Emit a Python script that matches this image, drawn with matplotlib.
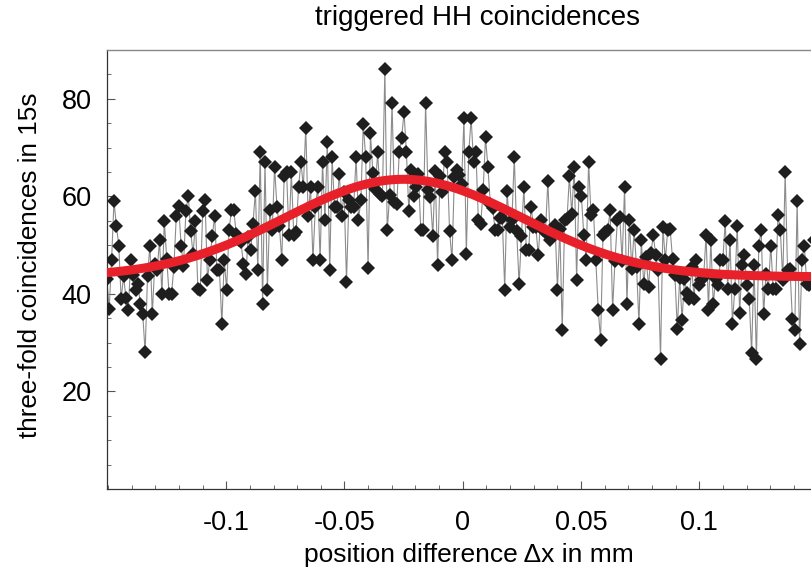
import numpy as np
import matplotlib
matplotlib.use("Agg")
import matplotlib.pyplot as plt
from matplotlib.ticker import MultipleLocator

plt.rcParams['font.family'] = ['Liberation Sans', 'DejaVu Sans']

# three-fold coincidences per scan step (left to right)
counts = [
    43.0, 37.0, 46.9, 59.0, 54.0, 49.9, 38.9, 43.7, 39.1, 36.8, 47.0, 43.8, 40.7, 42.1, 37.9,
    35.8, 28.0, 43.7, 49.9, 35.8, 46.2, 44.8, 51.0, 39.9, 54.9, 47.2, 39.9, 39.9, 45.6, 56.0,
    58.1, 49.9, 45.8, 56.9, 60.1, 52.9, 48.1, 54.9, 41.1,
    40.9, 57.0, 59.2, 42.9, 47.0, 51.9, 55.9, 44.8, 44.8, 33.8, 47.0, 40.9, 53.0, 57.1, 57.1,
    52.3, 51.0, 50.6, 46.1, 44.0, 51.6, 48.9, 54.4, 61.1, 44.8, 69.0, 38.0, 67.0, 40.9, 57.1,
    53.0, 66.0, 57.8, 54.0, 46.9, 64.1, 65.0, 52.0,
    65.0, 52.0, 52.7, 61.9, 67.0, 61.9, 74.1, 56.0, 61.9, 46.9, 57.8, 61.9, 46.9, 67.0, 55.2,
    71.2, 44.9, 68.0, 57.8, 57.8, 64.6, 56.0, 60.9, 42.5, 59.3, 57.8, 57.8, 68.0, 55.2, 59.2,
    74.8, 68.0, 45.3, 72.9, 64.8, 61.5, 69.0, 60.5, 60.1, 86.1,
    53.0, 60.2, 79.2, 58.8, 58.5, 69.0, 72.0, 77.2, 69.0, 57.0, 65.3, 60.0, 61.9, 64.5, 53.0,
    53.0, 79.2, 61.2, 59.8, 51.9, 65.2, 45.9, 64.1, 60.9, 69.0, 67.0, 52.9, 46.9, 63.9, 65.3,
    64.3, 62.6, 76.0, 48.1, 69.0, 76.0, 67.0, 69.0, 55.2, 54.4,
    61.2, 72.1, 66.0, 58.5, 57.7, 53.0, 53.0, 55.6, 55.6, 40.9, 61.1, 53.7, 55.1, 68.0, 52.9,
    42.0, 51.8, 62.0, 48.9, 48.9, 57.9, 53.8, 53.7, 47.9, 55.2, 53.0, 52.7, 63.1, 51.0, 52.2,
    54.2, 40.9, 53.4, 32.7, 55.1, 55.4, 64.1, 56.3, 66.1, 42.9, 62.0,
    60.0, 52.0, 47.0, 67.0, 56.1, 57.1, 47.0, 36.8, 30.6, 52.0, 52.7, 53.2, 57.1, 36.8, 46.7,
    55.1, 55.7, 46.7, 61.9, 37.9, 55.1, 45.2, 53.0, 45.6, 33.9, 51.0, 42.0, 47.6, 41.4, 48.4,
    52.0, 47.9, 45.0, 26.7, 53.8, 46.9, 53.2, 53.4, 47.2, 43.8, 32.9,
    43.3, 34.7, 43.1, 40.1, 39.0, 45.5, 39.0, 47.0, 41.8, 42.8, 43.5, 52.0, 36.8, 51.0, 37.9,
    43.1, 41.8, 47.0, 47.0, 54.9, 41.1, 51.0, 33.9, 41.1, 54.0, 36.0, 45.9, 47.9, 41.8, 39.0,
    27.9, 45.9, 26.7, 49.9, 53.0, 35.8, 44.1, 41.1, 49.9, 41.1, 41.1, 56.1, 53.0, 42.8, 65.0,
    44.8, 45.2, 34.9, 32.7, 59.0, 29.8, 47.0, 49.9, 42.1, 41.8, 43.1, 51.0,
]
x_first, x_last = -0.1505, 0.1485
positions = np.linspace(x_first, x_last, len(counts))

# gaussian fit parameters: offset, amplitude, centre, width
fit_offset = 43.5
fit_amp = 20.0
fit_x0 = -0.025
fit_sigma = 0.05

fig = plt.figure(figsize=(8.12, 5.71), dpi=100)
ax = fig.add_axes([0.1318, 0.1436, 0.8700, 0.7688])

xf = np.linspace(-0.16, 0.16, 400)
yf = fit_offset + fit_amp * np.exp(-(xf - fit_x0) ** 2 / (2 * fit_sigma ** 2))

ax.plot(positions, counts, '-', color='#8c8c8c', lw=0.8, zorder=2)
ax.plot(positions, counts, 'D', color='#1e1e1e', ms=7, mew=0, zorder=3)
ax.plot(xf, yf, '-', color='#e8202a', lw=6.5, solid_capstyle='butt', zorder=4)

ax.set_xlim(-0.1504, 0.1483)
ax.set_ylim(0, 90)

ax.xaxis.set_major_locator(MultipleLocator(0.05))
ax.xaxis.set_minor_locator(MultipleLocator(0.01))
ax.yaxis.set_major_locator(MultipleLocator(20))
ax.yaxis.set_minor_locator(MultipleLocator(5))
ax.set_yticks([20, 40, 60, 80])
ax.set_xticks([-0.1, -0.05, 0, 0.05, 0.1])
ax.set_xticklabels(['-0.1', '-0.05', '0', '0.05', '0.1'])

ax.tick_params(which='both', direction='in', top=False, right=False,
               labelsize=19.5, color='#555555')
ax.tick_params(which='major', length=6, width=0.8)
ax.tick_params(axis='x', which='major', pad=15)
ax.tick_params(axis='y', which='major', pad=11)
ax.tick_params(which='minor', length=3, width=0.6)

for side in ['left', 'bottom']:
    ax.spines[side].set_color('#333333')
    ax.spines[side].set_linewidth(0.9)
ax.spines['top'].set_color('#888888')
ax.spines['top'].set_linewidth(1.0)
ax.spines['right'].set_visible(False)

fig.text(0.578, 0.028, 'position difference \u0394x in mm', fontsize=19,
         ha='center', va='center')
fig.text(0.037, 0.536, 'three-fold coincidences in 15s', fontsize=18.8,
         ha='center', va='center', rotation=90)
fig.text(0.588, 0.968, 'triggered HH coincidences', fontsize=20, ha='center', va='center')

fig.savefig('out.png', dpi=100)
